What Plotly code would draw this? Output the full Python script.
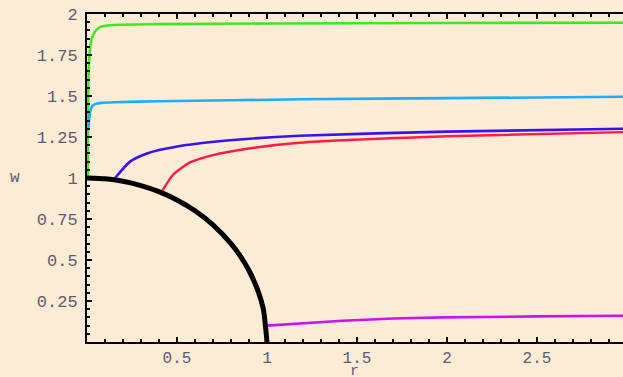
import plotly.graph_objects as go

# Data
circle_r = [0.0, 0.1, 0.2, 0.3, 0.4, 0.5, 0.6, 0.7, 0.8, 0.85, 0.9, 0.95, 0.98, 1.0]
circle_w = [1.0, 0.995, 0.98, 0.954, 0.917, 0.866, 0.8, 0.714, 0.6, 0.527, 0.436, 0.312, 0.199, 0.0]

green_r = [0.004, 0.006, 0.012, 0.022, 0.033, 0.05, 0.072, 0.14, 0.4, 1.0, 2.0, 2.98]
green_w = [1.0, 1.45, 1.72, 1.83, 1.87, 1.9, 1.92, 1.933, 1.938, 1.942, 1.945, 1.947]

cyan_r = [0.008, 0.012, 0.02, 0.03, 0.05, 0.08, 0.15, 0.4, 0.8, 1.2, 2.0, 2.98]
cyan_w = [1.29, 1.36, 1.415, 1.44, 1.452, 1.458, 1.462, 1.468, 1.474, 1.48, 1.487, 1.495]

blue_r = [0.156, 0.239, 0.333, 0.517, 0.794, 1.18, 2.0, 2.98]
blue_w = [1.0, 1.10, 1.15, 1.195, 1.23, 1.258, 1.283, 1.30]

red_r = [0.42, 0.478, 0.572, 0.7, 0.9, 1.18, 2.0, 2.98]
red_w = [0.925, 1.02, 1.095, 1.14, 1.18, 1.215, 1.255, 1.28]

magenta_r = [1.0, 1.18, 1.42, 1.7, 1.98, 2.5, 2.98]
magenta_w = [0.10, 0.112, 0.13, 0.143, 0.15, 0.156, 0.16]

x_ticks = [0.5, 1, 1.5, 2, 2.5]
x_labels = ["0.5", "1", "1.5", "2", "2.5"]
y_ticks = [0.25, 0.5, 0.75, 1, 1.25, 1.5, 1.75, 2]
y_labels = ["0.25", "0.5", "0.75", "1", "1.25", "1.5", "1.75", "2"]

bg = "#fdecd5"
fig = go.Figure()

series = [
    (green_r, green_w, "#3de81f", 2.6, "spline"),
    (cyan_r, cyan_w, "#1aaeff", 2.6, "spline"),
    (blue_r, blue_w, "#3a12f0", 2.6, "spline"),
    (red_r, red_w, "#ff1a4a", 2.4, "spline"),
    (magenta_r, magenta_w, "#c814f0", 2.6, "linear"),
    (circle_r, circle_w, "#000000", 5, "spline"),
]
for xs, ys, c, w, shp in series:
    line = dict(color=c, width=w, shape=shp)
    if shp == "spline":
        line["smoothing"] = 0.6
    fig.add_trace(go.Scatter(x=xs, y=ys, mode="lines", line=line,
                             showlegend=False, hoverinfo="skip", cliponaxis=False))

fontfam = "Liberation Mono, Courier New, monospace"
ytickfont = dict(family=fontfam, size=17, color="#5e5a72")
xtickfont = dict(family=fontfam, size=16, color="#5e5a72")

fig.update_layout(
    width=623, height=377,
    margin=dict(l=87, r=0, t=14, b=35),
    paper_bgcolor=bg, plot_bgcolor=bg,
    showlegend=False,
    xaxis=dict(range=[0, 2.978], tickmode="array", tickvals=x_ticks, ticktext=x_labels,
               ticks="inside", ticklen=5, tickwidth=2, tickcolor="black",
               showline=True, linecolor="black", linewidth=2, mirror="ticks",
               showgrid=False, zeroline=False, tickfont=xtickfont, automargin=False,
               minor=dict(tickmode="linear", dtick=0.1, tick0=0, ticks="inside",
                          ticklen=3, tickwidth=2, tickcolor="black", showgrid=False)),
    yaxis=dict(range=[0, 2], tickmode="array", tickvals=y_ticks, ticktext=y_labels,
               ticks="inside", ticklen=5, tickwidth=2, tickcolor="black",
               showline=True, linecolor="black", linewidth=2, mirror=False,
               showgrid=False, zeroline=False, tickfont=ytickfont, automargin=False,
               ticklabelstandoff=4,
               minor=dict(tickmode="linear", dtick=0.05, tick0=0, ticks="inside",
                          ticklen=3, tickwidth=2, tickcolor="black", showgrid=False)),
)

fig.add_annotation(text="w", xref="paper", yref="paper", x=-0.134, y=0.5,
                   xanchor="center", yanchor="middle", showarrow=False,
                   font=dict(family=fontfam, size=16, color="#5e5a72"))
fig.add_annotation(text="r", xref="paper", yref="paper", x=0.499, y=-0.122,
                   xanchor="center", yanchor="bottom", showarrow=False,
                   font=dict(family=fontfam, size=15, color="#5e5a72"))

fig.write_html("out.html", config={"displayModeBar": False},
               post_script="document.body.style.margin='0';document.body.style.overflow='hidden';")
